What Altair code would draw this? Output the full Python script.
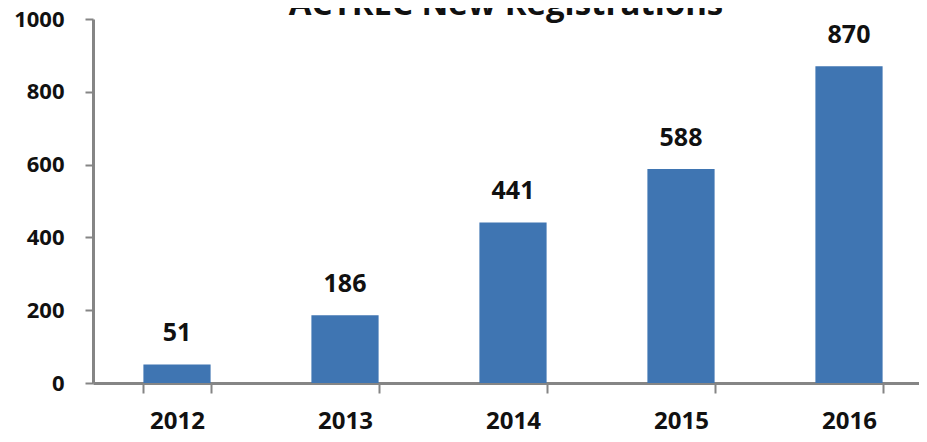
import altair as alt
import pandas as pd

years = ["2012", "2013", "2014", "2015", "2016"]
registrations = [51, 186, 441, 588, 870]
y_ticks = [0, 200, 400, 600, 800, 1000]
title_text = "ACTREC New Registrations"

df = pd.DataFrame({"year": years, "value": registrations})

FONT = "Open Sans"
AXIS_GRAY = "#858585"
BAR_BLUE = "#3F75B2"

x_enc = alt.X(
    "year:N",
    sort=years,
    scale=alt.Scale(range=[0, 840], paddingInner=0.6, paddingOuter=0.3),
    axis=alt.Axis(
        title=None,
        labelAngle=0,
        labelFont=FONT,
        labelFontWeight="bold",
        labelFontSize=24,
        labelColor="#111111",
        labelPadding=16,
        labelBaseline="top",
        tickBand="extent",
        tickSize=10,
        tickWidth=2,
        tickColor=AXIS_GRAY,
        domainColor=AXIS_GRAY,
        domainWidth=3,
        grid=False,
    ),
)

y_enc = alt.Y(
    "value:Q",
    scale=alt.Scale(domain=[0, 1000], nice=False),
    axis=alt.Axis(
        title=None,
        values=y_ticks,
        format="d",
        labelFont=FONT,
        labelFontWeight="bold",
        labelFontSize=22,
        labelColor="#111111",
        labelPadding=21,
        tickSize=8,
        tickWidth=2,
        tickColor=AXIS_GRAY,
        domainColor=AXIS_GRAY,
        domainWidth=3,
        grid=False,
    ),
)

bars = alt.Chart(df).mark_bar(color=BAR_BLUE).encode(x=x_enc, y=y_enc)

labels = alt.Chart(df).mark_text(
    font=FONT,
    fontWeight="bold",
    fontSize=25,
    color="#111111",
    baseline="alphabetic",
    dy=-23,
).encode(x=alt.X("year:N", sort=years), y="value:Q", text="value:Q")

chart = (
    alt.layer(bars, labels)
    .properties(
        width=826,
        height=364,
        padding={"left": 85, "top": 11, "right": 0, "bottom": 51},
        autosize=alt.AutoSizeParams(type="none"),
        title=alt.TitleParams(
            text=title_text,
            font=FONT,
            fontWeight="bold",
            fontSize=33,
            color="#111111",
            anchor="middle",
            frame="group",
            baseline="alphabetic",
            offset=0,
            dy=40,
        ),
        background="white",
    )
    .configure_view(stroke=None)
)

chart.save("out.html", embed_options={"renderer": "svg", "actions": False})
